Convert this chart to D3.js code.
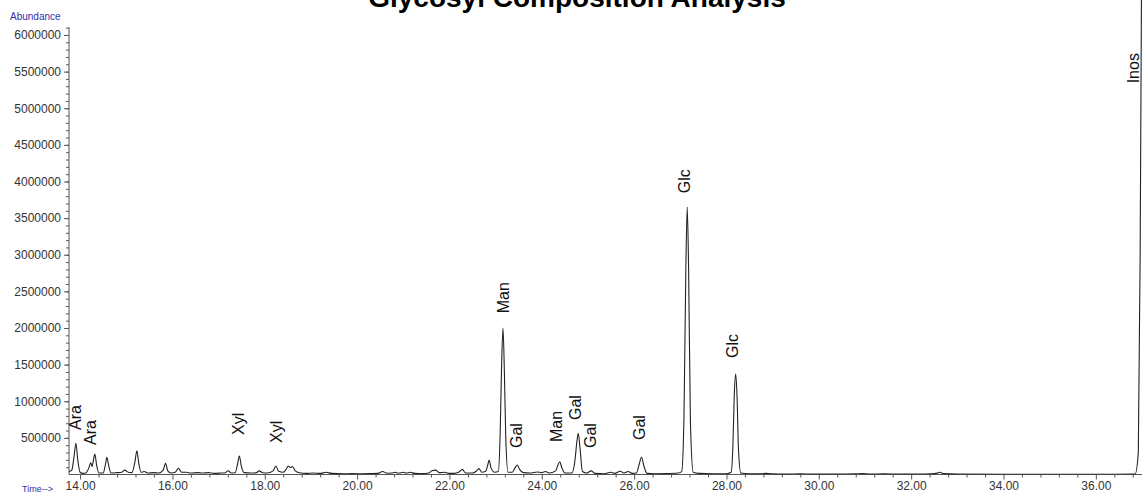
<!DOCTYPE html>
<html>
<head>
<meta charset="utf-8">
<script src="https://cdn.jsdelivr.net/npm/d3@7"></script>
<style>
  html, body { margin: 0; padding: 0; background: #fff; }
  svg { display: block; font-family: "Liberation Sans", Arial, sans-serif; }
</style>
</head>
<body>
<svg id="chart" width="1143" height="493"></svg>
<script>
// ---- Data ----
const chartTitle = "Glycosyl Composition Analysis";
const yAxisTitle = "Abundance";
const xAxisTitle = "Time-->";

const xTickValues = [14, 16, 18, 20, 22, 24, 26, 28, 30, 32, 34, 36];
const yTickValues = [500000, 1000000, 1500000, 2000000, 2500000, 3000000,
                     3500000, 4000000, 4500000, 5000000, 5500000, 6000000];

// retention time (min)
const traceTime = [
  13.76, 13.82, 13.87, 13.91, 13.95, 14.00, 14.06, 14.12, 14.19, 14.23, 14.26, 14.29, 14.32, 14.36, 14.41,
  14.50, 14.55, 14.58, 14.62, 14.67, 14.80, 14.90, 14.97, 15.04, 15.12, 15.19, 15.23, 15.27, 15.32, 15.39,
  15.46, 15.60, 15.70, 15.80, 15.85, 15.90, 15.97, 16.06, 16.13, 16.20, 16.30, 16.40, 16.55, 16.65, 16.78,
  16.90, 17.05, 17.15, 17.21, 17.27, 17.36, 17.41, 17.45, 17.49, 17.55, 17.70, 17.82, 17.88, 17.95, 18.05,
  18.18, 18.24, 18.30, 18.40, 18.46, 18.51, 18.56, 18.60, 18.66, 18.75, 18.90, 19.05, 19.20, 19.33, 19.45,
  19.70, 19.90, 20.10, 20.30, 20.45, 20.55, 20.65, 20.75, 20.82, 20.90, 21.00, 21.07, 21.15, 21.25, 21.40,
  21.55, 21.62, 21.70, 21.78, 21.90, 21.98, 22.10, 22.20, 22.28, 22.35, 22.50, 22.58, 22.64, 22.70, 22.78,
  22.83, 22.86, 22.90, 22.98, 23.06, 23.10, 23.13, 23.16, 23.19, 23.22, 23.27, 23.36, 23.42, 23.47, 23.52,
  23.60, 23.75, 23.90, 24.00, 24.08, 24.16, 24.30, 24.35, 24.39, 24.43, 24.50, 24.65, 24.72, 24.76, 24.79,
  24.83, 24.88, 24.97, 25.07, 25.15, 25.35, 25.50, 25.58, 25.70, 25.78, 25.87, 25.96, 26.05, 26.11, 26.16,
  26.21, 26.28, 26.45, 26.70, 26.95, 27.03, 27.08, 27.12, 27.15, 27.18, 27.22, 27.28, 27.40, 27.70, 28.00,
  28.10, 28.14, 28.17, 28.20, 28.23, 28.26, 28.31, 28.50, 28.75, 28.86, 28.97, 29.30, 29.60, 29.80, 30.20,
  30.80, 30.95, 31.10, 31.40, 31.80, 32.30, 32.55, 32.62, 32.70, 33.00, 34.00, 35.00, 36.00, 36.85, 36.92,
  36.96, 37.00
];
// abundance (counts)
const traceAbundance = [
  40000, 60000, 250000, 426000, 200000, 30000, 15000, 20000, 90000, 161000, 110000, 200000, 280000, 120000, 20000,
  20000, 140000, 235000, 120000, 20000, 25000, 30000, 60000, 30000, 25000, 180000, 325000, 160000, 30000, 40000,
  20000, 25000, 20000, 60000, 153000, 50000, 20000, 30000, 85000, 30000, 30000, 20000, 25000, 20000, 25000,
  15000, 20000, 25000, 52000, 20000, 25000, 140000, 253000, 120000, 25000, 20000, 25000, 50000, 25000, 20000,
  50000, 116000, 45000, 30000, 70000, 116000, 95000, 110000, 50000, 25000, 15000, 20000, 15000, 30000, 15000,
  10000, 12000, 10000, 12000, 15000, 40000, 18000, 20000, 30000, 18000, 30000, 20000, 30000, 15000, 12000,
  20000, 50000, 60000, 25000, 30000, 15000, 15000, 30000, 70000, 20000, 20000, 45000, 80000, 30000, 40000,
  130000, 198000, 90000, 30000, 40000, 600000, 1500000, 2000000, 1400000, 500000, 30000, 30000, 90000, 130000, 70000,
  25000, 20000, 35000, 25000, 40000, 20000, 50000, 130000, 175000, 100000, 20000, 20000, 200000, 450000, 562000,
  350000, 40000, 20000, 50000, 15000, 10000, 30000, 15000, 45000, 20000, 40000, 15000, 20000, 140000, 235000,
  120000, 15000, 10000, 12000, 20000, 40000, 800000, 2800000, 3650000, 2800000, 700000, 30000, 15000, 10000, 10000,
  30000, 400000, 1100000, 1370000, 1050000, 350000, 20000, 10000, 8000, 15000, 8000, 5000, 10000, 5000, 5000,
  10000, 12000, 5000, 8000, 5000, 6000, 15000, 30000, 12000, 5000, 4000, 4000, 4000, 5000, 300000,
  3000000, 8000000
];

// peak annotations: name, time of label, abundance where label starts
const peakNames = ["Ara", "Ara", "Xyl", "Xyl", "Man", "Gal", "Man", "Gal", "Gal", "Gal", "Glc", "Glc", "Inos"];
const peakLabelTime = [13.89, 14.22, 17.44, 18.26, 23.16, 23.46, 24.32, 24.74, 25.06, 26.12, 27.10, 28.13, 36.81];
const peakLabelAbundance = [607000, 403000, 539000, 430000, 2200000, 362000, 444000, 744000, 362000, 471000, 3840000, 1590000, 5340000];

// ---- Layout ----
const svg = d3.select("#chart");
const xLeft = 69, xRight = 1142, yTop = 27, yBottom = 474.5;

const x = d3.scaleLinear().domain([13.76, 37.0]).range([xLeft, xRight]);
const y = d3.scaleLinear().domain([0, 6109000]).range([yBottom, yTop]);

// title
svg.append("text")
  .attr("x", 577).attr("y", 7)
  .attr("text-anchor", "middle")
  .attr("font-size", 28).attr("font-weight", "bold").attr("fill", "#000")
  .text(chartTitle);

// axis captions
svg.append("text").attr("x", 10).attr("y", 20)
  .attr("font-size", 10).attr("fill", "#3030a8").text(yAxisTitle);
svg.append("text").attr("x", 22).attr("y", 492)
  .attr("font-size", 9).attr("fill", "#3030a8").text(xAxisTitle);

// clip
svg.append("clipPath").attr("id", "plotclip")
  .append("rect").attr("x", xLeft).attr("y", 0).attr("width", xRight - xLeft + 2).attr("height", yBottom);

// Y axis minor ticks
const yMinor = d3.range(100000, 6109000, 100000);
const yMinorAxis = d3.axisLeft(y).tickValues(yMinor).tickSize(3).tickFormat("");
svg.append("g").attr("transform", `translate(${xLeft},0)`).call(yMinorAxis)
  .call(g => g.select(".domain").remove())
  .selectAll("line").attr("stroke", "#555");

// Y axis major
const yAxis = d3.axisLeft(y).tickValues(yTickValues).tickSize(5).tickPadding(3)
  .tickFormat(d3.format("d"));
const gy = svg.append("g").attr("transform", `translate(${xLeft},0)`).call(yAxis);
gy.select(".domain").attr("stroke", "#555").attr("d", `M-0,${yTop}V${yBottom}`);
gy.selectAll(".tick line").attr("stroke", "#555");
gy.selectAll(".tick text").attr("font-size", 12).attr("fill", "#333")
  .attr("font-family", "Liberation Sans, Arial, sans-serif");

// X axis minor ticks
const xMinor = d3.range(14, 37.0, 0.4).map(v => Math.round(v * 10) / 10)
  .filter(v => xTickValues.indexOf(v) < 0);
const xMinorAxis = d3.axisBottom(x).tickValues(xMinor).tickSize(3).tickFormat("");
svg.append("g").attr("transform", `translate(0,${yBottom})`).call(xMinorAxis)
  .call(g => g.select(".domain").remove())
  .selectAll("line").attr("stroke", "#555");

// X axis major
const xAxis = d3.axisBottom(x).tickValues(xTickValues).tickSize(5).tickPadding(2)
  .tickFormat(d3.format(".2f"));
const gx = svg.append("g").attr("transform", `translate(0,${yBottom})`).call(xAxis);
gx.select(".domain").attr("stroke", "#555").attr("d", `M${xLeft},0H${xRight}`);
gx.selectAll(".tick line").attr("stroke", "#555");
gx.selectAll(".tick text").attr("font-size", 12).attr("fill", "#333")
  .attr("font-family", "Liberation Sans, Arial, sans-serif");

// trace
const pts = traceTime.map((t, i) => [t, traceAbundance[i]]);
const line = d3.line().x(d => x(d[0])).y(d => y(d[1])).curve(d3.curveMonotoneX);
svg.append("path")
  .attr("clip-path", "url(#plotclip)")
  .attr("d", line(pts))
  .attr("fill", "none").attr("stroke", "#222").attr("stroke-width", 1.1);

// peak labels
peakNames.forEach((name, i) => {
  const px = x(peakLabelTime[i]);
  const py = y(peakLabelAbundance[i]);
  svg.append("text")
    .attr("transform", `translate(${px},${py}) rotate(-90)`)
    .attr("dominant-baseline", "central")
    .attr("font-size", 16).attr("fill", "#111")
    .text(name);
});
</script>
</body>
</html>
